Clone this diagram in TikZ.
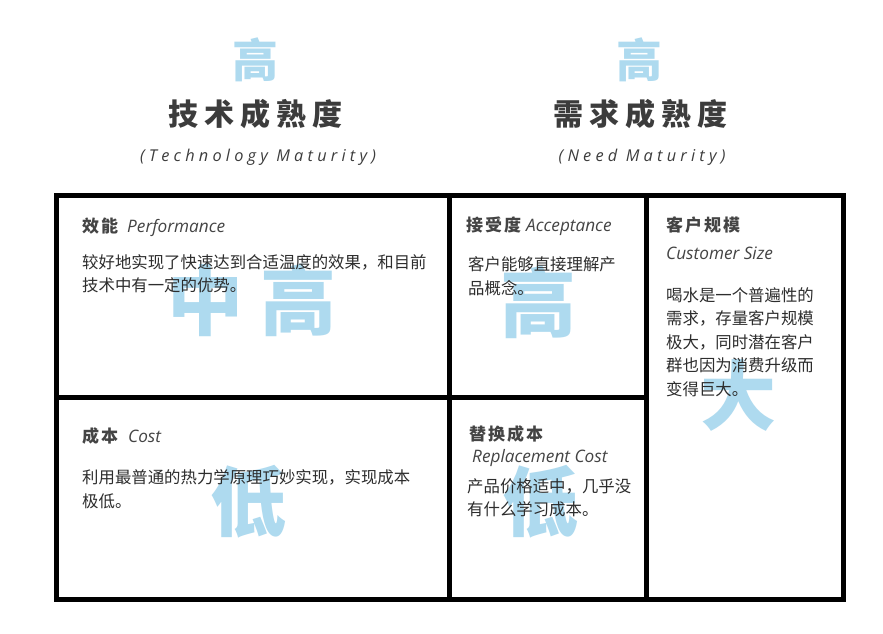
\documentclass[tikz,border=0pt]{standalone}
\usepackage{fontspec}
\newfontfamily\cjk{Noto Sans CJK SC}
\newfontfamily\en{Open Sans}
\newfontfamily\ensp{Open Sans}[LetterSpace=26]
\definecolor{bigblue}{RGB}{174,218,239}
\definecolor{titlegray}{RGB}{60,60,60}
\definecolor{headgray}{RGB}{68,68,68}
\definecolor{bodygray}{RGB}{45,45,45}
\tikzset{
  grid/.style={line width=5.3pt, draw=black},
  bigchar/.style={inner sep=0, text=bigblue, font={\cjk\bfseries\fontsize{76}{80}\selectfont}},
  topchar/.style={inner sep=0, text=bigblue, font={\cjk\bfseries\fontsize{46}{50}\selectfont}},
  title/.style={inner sep=0, text=titlegray, font={\cjk\bfseries\fontsize{30}{34}\selectfont}},
  subtitle/.style={inner sep=0, text=titlegray, font={\ensp\itshape\fontsize{16.3}{20}\selectfont}},
  head/.style={inner sep=0, anchor=west, text=headgray, font={\cjk\bfseries\fontsize{17}{20}\selectfont}},
  body/.style={inner sep=0, anchor=west, text=bodygray, font={\cjk\fontsize{16.4}{20}\selectfont}},
}
\newcommand{\enit}[1]{{\en\mdseries\itshape\fontsize{17.2}{20}\selectfont #1}}
\begin{document}
\begin{tikzpicture}[x=1pt,y=-1pt]
\useasboundingbox (0,0) rectangle (883,633);
\fill[white] (0,0) rectangle (883,633);
% big background characters
\node[bigchar] (bzg) at (252,300) {中\kern17pt 高};
\node[bigchar] (bga) at (538,302) {高};
\node[bigchar] (bda) at (738,395) {大};
\node[bigchar] (bdl) at (248,502) {低};
\node[bigchar] (bdm) at (540,502) {低};
% grid
\draw[grid] (56.5,195.3) rectangle (843.5,599.8);
\draw[grid] (449.5,195.3) -- (449.5,599.8);
\draw[grid] (646.5,195.3) -- (646.5,599.8);
\draw[grid] (56.5,397.2) -- (646.5,397.2);
% titles
\node[topchar] (t1) at (255,60) {高};
\node[topchar] (t2) at (639,60) {高};
\node[title] (tt1) at (255,114) {技\kern6pt 术\kern6pt 成\kern6pt 熟\kern6pt 度};
\node[title] (tt2) at (640.5,114) {需\kern6pt 求\kern6pt 成\kern6pt 熟\kern6pt 度};
\node[subtitle] (st1) at (258,157) {(Technology Maturity)};
\node[subtitle] (st2) at (642,157) {(Need Maturity)};
% cell 1
\node[head] (h1) at (82,227) {效\kern2pt 能\kern9pt\enit{Performance}};
\node[body] (b1a) at (82,262) {较好地实现了快速达到合适温度的效果，和目前};
\node[body] (b1b) at (82,285) {技术中有一定的优势。};
% cell 2
\node[head] (h2) at (466,226) {接\kern2pt 受\kern2pt 度\kern5pt\enit{Acceptance}};
\node[body] (b2a) at (468,264) {客户能够直接理解产};
\node[body] (b2b) at (468,288) {品概念。};
% cell 3
\node[head] (h3) at (666,225) {客\kern2pt 户\kern2pt 规\kern2pt 模};
\node[head] (h3e) at (666,253) {\enit{Customer Size}};
\node[body] (b3a) at (666,295) {喝水是一个普遍性的};
\node[body] (b3b) at (666,318.5) {需求，存量客户规模};
\node[body] (b3c) at (666,342) {极大，同时潜在客户};
\node[body] (b3d) at (666,365.5) {群也因为消费升级而};
\node[body] (b3e) at (666,389) {变得巨大。};
% cell 4
\node[head] (h4) at (82,436) {成\kern2pt 本\kern10pt\enit{Cost}};
\node[body] (b4a) at (82,477) {利用最普通的热力学原理巧妙实现，实现成本};
\node[body] (b4b) at (82,501) {极低。};
% cell 5
\node[head] (h5) at (469,434) {替\kern2pt 换\kern2pt 成\kern2pt 本};
\node[head] (h5e) at (472,458) {\enit{Replacement Cost}};
\node[body] (b5a) at (467,486) {产品价格适中，几乎没};
\node[body] (b5b) at (467,509) {有什么学习成本。};
\end{tikzpicture}
\end{document}
